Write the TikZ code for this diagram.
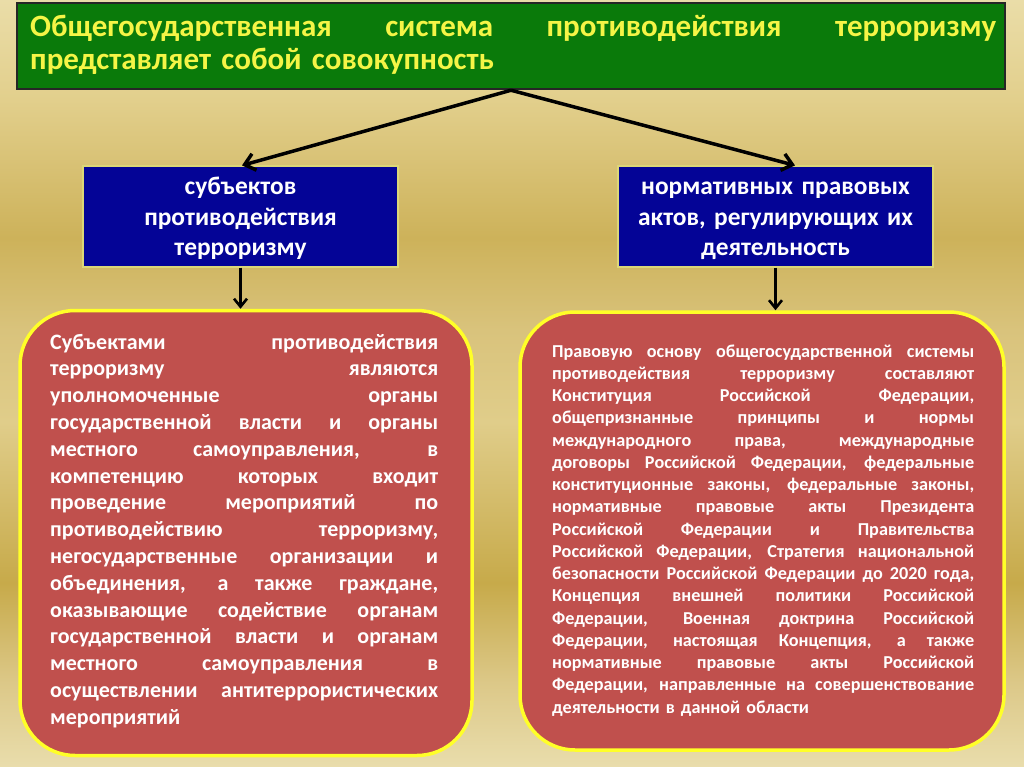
\documentclass[tikz,border=0pt]{standalone}
\usepackage{fontspec}
\setmainfont{Carlito}
\usetikzlibrary{arrows.meta}
\definecolor{bgA}{HTML}{EADDA8}
\definecolor{bgB}{HTML}{E2CF8C}
\definecolor{bgC}{HTML}{CDB25A}
\definecolor{bgD}{HTML}{D9C37C}
\definecolor{bgE}{HTML}{E0CD8A}
\definecolor{bgF}{HTML}{C7AA4A}
\definecolor{bgG}{HTML}{DCC888}
\definecolor{bgH}{HTML}{E9DDAC}
\definecolor{tgreen}{RGB}{10,122,10}
\definecolor{tyellow}{RGB}{255,255,40}
\definecolor{ttext}{RGB}{245,245,70}
\definecolor{tblue}{RGB}{4,4,150}
\definecolor{bborder}{RGB}{220,215,120}
\definecolor{tred}{RGB}{192,80,77}
\pgfdeclareverticalshading{bgshade}{100bp}{color(0bp)=(bgH); color(25bp)=(bgH); color(30.5bp)=(bgG); color(37bp)=(bgF); color(47.5bp)=(bgE); color(53.5bp)=(bgD); color(59.5bp)=(bgC); color(68.5bp)=(bgB); color(75bp)=(bgA); color(100bp)=(bgA)}
\newcommand\jl[2]{\hbox to #1{\spaceskip=0.25em plus 1fil\relax #2}}
\tikzset{
  titlebox/.style={draw=black!85, line width=2.5pt, fill=tgreen, minimum width=988pt, minimum height=86pt, inner sep=0pt},
  bluebox/.style={fill=tblue, draw=bborder, line width=1.2pt, minimum width=315pt, minimum height=101pt, inner sep=0pt},
  redbox/.style={fill=tred, draw=tyellow, line width=3.5pt, rounded corners=55pt, inner sep=0pt},
  arr/.style={-{Straight Barb[length=10pt,width=17pt]}, line width=3.5pt, black},
  darr/.style={-{Straight Barb[length=8pt,width=13pt]}, line width=2.6pt, black},
  titletext/.style={anchor=base west, inner sep=0pt, text width=966pt, text=ttext, font=\fontsize{31}{33}\selectfont\bfseries},
  bluetext/.style={anchor=base, inner sep=0pt, text width=315pt, align=center, text=white, font=\fontsize{25.4}{30.5}\selectfont\bfseries},
  ltextstyle/.style={anchor=base west, inner sep=0pt, text width=388pt, text=white, font=\fontsize{22}{26.8}\selectfont\bfseries},
  rtextstyle/.style={anchor=base west, inner sep=0pt, text width=422pt, text=white, font=\fontsize{18.2}{22.25}\selectfont\bfseries}
}
\begin{document}
\begin{tikzpicture}[x=1pt,y=-1pt]
\useasboundingbox (0,0) rectangle (1024,767);
\shade[shading=bgshade] (0,0) rectangle (1024,767);
% boxes
\node[titlebox] (title) at (511,46) {};
\node[titletext] (titletxt) at (30,37) {\jl{966pt}{Общегосударственная система противодействия терроризму}
представляет собой совокупность};
\node[bluebox] (sub) at (240.5,216.5) {};
\node[bluebox] (norm) at (775.5,216.5) {};
\node[bluetext] (subtxt) at (240.5,195) {субъектов\\противодействия\\терроризму};
\node[bluetext] (normtxt) at (775.5,195) {нормативных правовых\\актов, регулирующих их\\деятельность};
\node[redbox, minimum width=452pt, minimum height=445pt] (lbox) at (246,533) {};
\node[redbox, minimum width=484pt, minimum height=438pt] (rbox) at (762,531) {};
\node[ltextstyle] (ltext) at (50,349) {%
\jl{388pt}{Субъектами противодействия}
\jl{388pt}{терроризму являются}
\jl{388pt}{уполномоченные органы}
\jl{388pt}{государственной власти и органы}
\jl{388pt}{местного самоуправления, в}
\jl{388pt}{компетенцию которых входит}
\jl{388pt}{проведение мероприятий по}
\jl{388pt}{противодействию терроризму,}
\jl{388pt}{негосударственные организации и}
\jl{388pt}{объединения, а также граждане,}
\jl{388pt}{оказывающие содействие органам}
\jl{388pt}{государственной власти и органам}
\jl{388pt}{местного самоуправления в}
\jl{388pt}{осуществлении антитеррористических}
мероприятий};
\node[rtextstyle] (rtext) at (552,357) {%
\jl{422pt}{Правовую основу общегосударственной системы}
\jl{422pt}{противодействия терроризму составляют}
\jl{422pt}{Конституция Российской Федерации,}
\jl{422pt}{общепризнанные принципы и нормы}
\jl{422pt}{международного права, международные}
\jl{422pt}{договоры Российской Федерации, федеральные}
\jl{422pt}{конституционные законы, федеральные законы,}
\jl{422pt}{нормативные правовые акты Президента}
\jl{422pt}{Российской Федерации и Правительства}
\jl{422pt}{Российской Федерации, Стратегия национальной}
\jl{422pt}{безопасности Российской Федерации до 2020 года,}
\jl{422pt}{Концепция внешней политики Российской}
\jl{422pt}{Федерации, Военная доктрина Российской}
\jl{422pt}{Федерации, настоящая Концепция, а также}
\jl{422pt}{нормативные правовые акты Российской}
\jl{422pt}{Федерации, направленные на совершенствование}
деятельности в данной области};
% connectors
\draw[arr] (title.south) -- ([xshift=1.5pt]sub.north);
\draw[arr] (title.south) -- ([xshift=19.5pt]norm.north);
\draw[darr] (sub.south) -- (sub.south |- lbox.north);
\draw[darr] (norm.south) -- (norm.south |- rbox.north);
\end{tikzpicture}
\end{document}
